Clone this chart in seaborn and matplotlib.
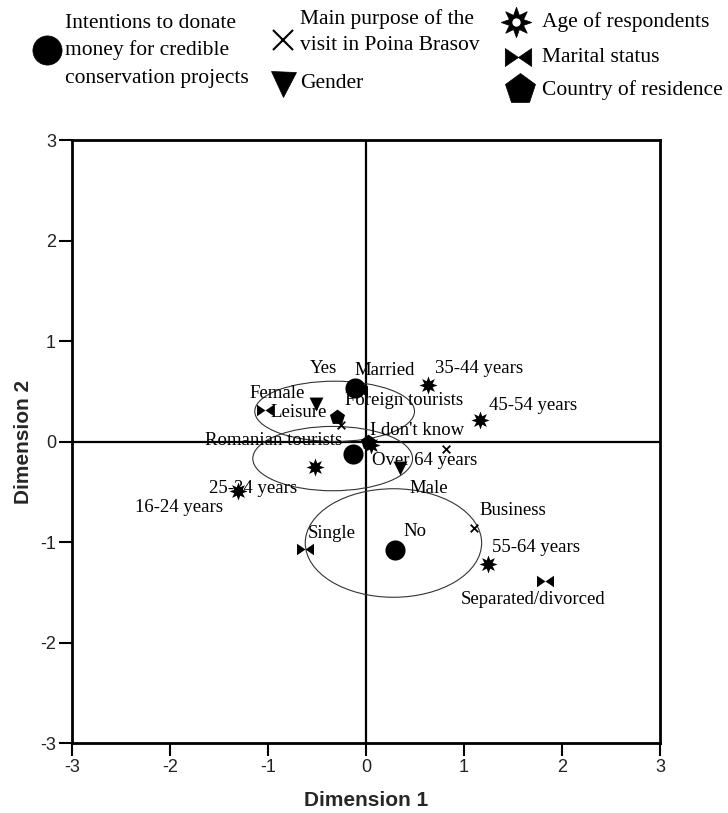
import numpy as np
import pandas as pd
import matplotlib
matplotlib.use("Agg")
import matplotlib.pyplot as plt
import seaborn as sns
from matplotlib.patches import Ellipse

# --- data ---
intent_labels = ["Yes", "No", "I don't know"]
intent_x = [-0.11, 0.30, -0.13]
intent_y = [0.53, -1.08, -0.12]

purpose_labels = ["Leisure", "Business", ""]
purpose_x = [-0.26, 1.10, 0.82]
purpose_y = [0.16, -0.86, -0.07]

gender_labels = ["Female", "Male"]
gender_x = [-0.51, 0.35]
gender_y = [0.37, -0.26]

age_labels = ["16-24 years", "25-34 years", "35-44 years", "45-54 years",
              "55-64 years", "Over 64 years"]
age_x = [-1.31, -0.52, 0.63, 1.16, 1.24, 0.05]
age_y = [-0.49, -0.25, 0.56, 0.21, -1.22, -0.03]

marital_labels = ["Married", "Single", "Separated/divorced", ""]
marital_x = [-0.07, -0.62, 1.83, -1.03]
marital_y = [0.50, -1.07, -1.39, 0.31]

country_labels = ["Foreign tourists", "Romanian tourists"]
country_x = [-0.30, 0.02]
country_y = [0.24, 0.00]

# confidence ellipses: centre x, centre y, width, height
ell_x = [-0.32, -0.34, 0.28]
ell_y = [0.30, -0.17, -1.01]
ell_w = [1.63, 1.63, 1.80]
ell_h = [0.60, 0.64, 1.08]

# label offsets in pixels (dx to left edge of text, dy to text centre; up = +)
label_offsets = {
    "Yes": (-45, 20), "No": (8, 19), "I don't know": (17, 23),
    "Leisure": (-70, 13), "Business": (6, 17),
    "Female": (-67, 11), "Male": (9, -21),
    "16-24 years": (-103, -17), "25-34 years": (-106, -22),
    "35-44 years": (7, 17), "45-54 years": (9, 15),
    "55-64 years": (4, 17), "Over 64 years": (1, -16),
    "Married": (-5, 21), "Single": (3, 16), "Separated/divorced": (-85, -18),
    "Foreign tourists": (8, 17), "Romanian tourists": (-163, 1),
}

bowtie = [(-1, -0.68), (-1, 0.68), (0, 0), (1, 0.68), (1, -0.68), (0, 0), (-1, -0.68)]
star = (8, 1, 0)

groups = [
    (intent_labels, intent_x, intent_y, "o", 210, 0),
    (purpose_labels, purpose_x, purpose_y, "x", 30, 1.3),
    (gender_labels, gender_x, gender_y, "v", 100, 0),
    (age_labels, age_x, age_y, star, 170, 0),
    (marital_labels, marital_x, marital_y, bowtie, 150, 0),
    (country_labels, country_x, country_y, "p", 130, 0),
]

sns.set_style("white")
plt.rcParams["font.family"] = ["Liberation Serif", "DejaVu Serif"]
plt.rcParams["axes.unicode_minus"] = False

fig = plt.figure(figsize=(7.28, 8.13), dpi=100)
ax = fig.add_axes([72 / 728, 70 / 813, 588 / 728, 603 / 813])

for ex, ey, ew, eh in zip(ell_x, ell_y, ell_w, ell_h):
    ax.add_patch(Ellipse((ex, ey), ew, eh, fill=False, edgecolor="#333333",
                         linewidth=0.8, zorder=2))

ax.axhline(0, color="black", linewidth=1.6, zorder=1)
ax.axvline(0, color="black", linewidth=1.6, zorder=1)

for labels, xs, ys, mk, size, lw in groups:
    df = pd.DataFrame({"x": xs, "y": ys, "label": labels})
    sns.scatterplot(data=df, x="x", y="y", marker=mk, s=size, color="black",
                    edgecolor="black", linewidth=lw, ax=ax, zorder=3, legend=False)
    for _, row in df.iterrows():
        if not row["label"]:
            continue
        dx, dy = label_offsets[row["label"]]
        ax.annotate(row["label"], (row["x"], row["y"]),
                    xytext=(dx * 0.72, dy * 0.72), textcoords="offset points",
                    ha="left", va="center", fontsize=13.5, color="black",
                    family=["Liberation Serif"], zorder=4)

ax.set_xlim(-3, 3)
ax.set_ylim(-3, 3)
ax.set_xticks(range(-3, 4))
ax.set_yticks(range(-3, 4))
for side in ax.spines.values():
    side.set_visible(True)
    side.set_color("black")
    side.set_linewidth(2)
ax.tick_params(axis="both", direction="out", length=9.5, width=1.5, pad=2,
               colors="black", labelsize=13, bottom=True, left=True)
for t in ax.get_xticklabels() + ax.get_yticklabels():
    t.set_family(["Liberation Sans"])
    t.set_color("#222222")
ax.set_xlabel("Dimension 1", fontsize=15, fontweight="bold",
              family=["Liberation Sans"], labelpad=11)
ax.set_ylabel("Dimension 2", fontsize=15, fontweight="bold",
              family=["Liberation Sans"], labelpad=5)

# --- legend drawn in pixel space ---
lg = fig.add_axes([0, 0, 1, 1], facecolor="none")
lg.set_xlim(0, 728)
lg.set_ylim(813, 0)
lg.axis("off")
legend_marks = [
    (47, 50, "o", 21, 0),
    (283, 40, "x", 15, 1.5),
    (283, 84, "v", 18, 0),
    (516, 22, star, 22, 0),
    (518, 57, bowtie, 19, 0),
    (520, 89, "p", 23, 0),
]
for mx, my, mk, ms, lw in legend_marks:
    lg.plot(mx, my, marker=mk, markersize=ms, color="black",
            markeredgewidth=lw if lw else 0.5, linestyle="none")
lg.plot(516, 22, marker="o", markersize=6, color="white", markeredgewidth=0)

legend_text = [
    (65, 23, "Intentions to donate"), (65, 50, "money for credible"),
    (65, 78, "conservation projects"),
    (300, 19, "Main purpose of the"), (300, 46, "visit in Poina Brasov"),
    (300, 84, "Gender"),
    (542, 22, "Age of respondents"), (542, 57, "Marital status"),
    (542, 90, "Country of residence"),
]
for tx, ty, s in legend_text:
    lg.text(tx, ty, s, ha="left", va="center", fontsize=15.5, color="black",
            family=["Liberation Serif"])

fig.savefig("out.png", dpi=100, facecolor="white")
